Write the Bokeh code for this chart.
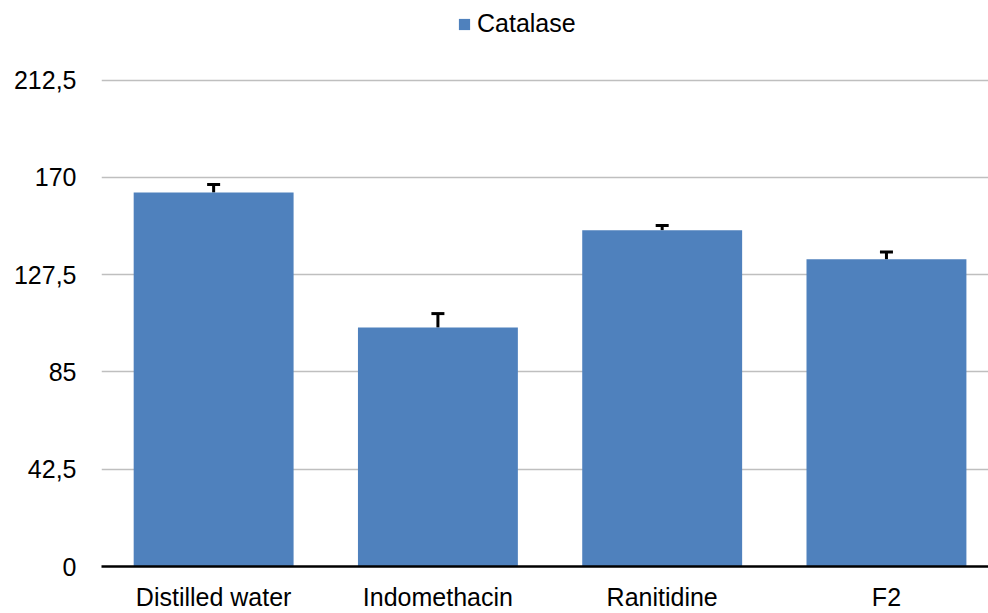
from bokeh.plotting import figure
from bokeh.models import ColumnDataSource, Range1d, FixedTicker, Whisker, TeeHead, Legend, LegendItem
from bokeh.embed import file_html
from bokeh.resources import INLINE

categories = ["Distilled water", "Indomethacin", "Ranitidine", "F2"]
catalase = [163.4, 104.4, 146.9, 134.2]
errors = [3.5, 6.1, 2.1, 3.2]
y_ticks = [0, 42.5, 85, 127.5, 170, 212.5]
y_tick_labels = ["0", "42,5", "85", "127,5", "170", "212,5"]

xs = list(range(len(categories)))
upper = [v + e for v, e in zip(catalase, errors)]
src = ColumnDataSource(dict(x=xs, top=catalase, upper=upper))

p = figure(width=988, height=613, output_backend="svg", toolbar_location=None,
           x_range=Range1d(-0.5, 3.455), y_range=Range1d(0, 247.3),
           min_border_left=101, min_border_right=0, min_border_top=0, min_border_bottom=46)
p.outline_line_color = None
p.background_fill_color = "white"
p.border_fill_color = "white"

r = p.vbar(x="x", top="top", width=0.713, source=src, fill_color="#4F81BD", line_color=None)

w = Whisker(base="x", upper="upper", lower="top", source=src,
            line_color="black", line_width=3,
            upper_head=TeeHead(size=13, line_color="black", line_width=3),
            lower_head=None)
p.add_layout(w)

font = "Liberation Sans"
# axes
p.xaxis.ticker = FixedTicker(ticks=xs)
p.xaxis.major_label_overrides = {i: c for i, c in zip(xs, categories)}
p.xaxis.major_tick_line_color = None
p.xaxis.major_tick_out = 0
p.xaxis.major_tick_in = 0
p.xaxis.minor_tick_line_color = None
p.xaxis.axis_line_color = "black"
p.xaxis.axis_line_width = 2.5
p.xaxis.major_label_text_font = font
p.xaxis.major_label_text_font_size = "25px"
p.xaxis.major_label_text_color = "black"
p.xaxis.major_label_standoff = 16

p.yaxis.ticker = FixedTicker(ticks=y_ticks)
p.yaxis.major_label_overrides = {t: l for t, l in zip(y_ticks, y_tick_labels)}
p.yaxis.major_tick_line_color = None
p.yaxis.major_tick_out = 0
p.yaxis.major_tick_in = 0
p.yaxis.minor_tick_line_color = None
p.yaxis.axis_line_color = None
p.yaxis.major_label_text_font = font
p.yaxis.major_label_text_font_size = "25px"
p.yaxis.major_label_text_color = "black"
p.yaxis.major_label_standoff = 25

p.xgrid.grid_line_color = None
p.ygrid.ticker = FixedTicker(ticks=y_ticks)
p.ygrid.grid_line_color = "#BFBFBF"
p.ygrid.grid_line_width = 1.5

legend = Legend(items=[LegendItem(label="Catalase", renderers=[r])],
                location=(356, 528), padding=0, margin=0, spacing=0,
                glyph_width=14, glyph_height=14, label_standoff=6,
                label_text_font=font, label_text_font_size="25px",
                label_text_color="black", border_line_color=None,
                background_fill_alpha=0)
p.add_layout(legend)

open("out.html", "w").write(file_html(p, INLINE))
